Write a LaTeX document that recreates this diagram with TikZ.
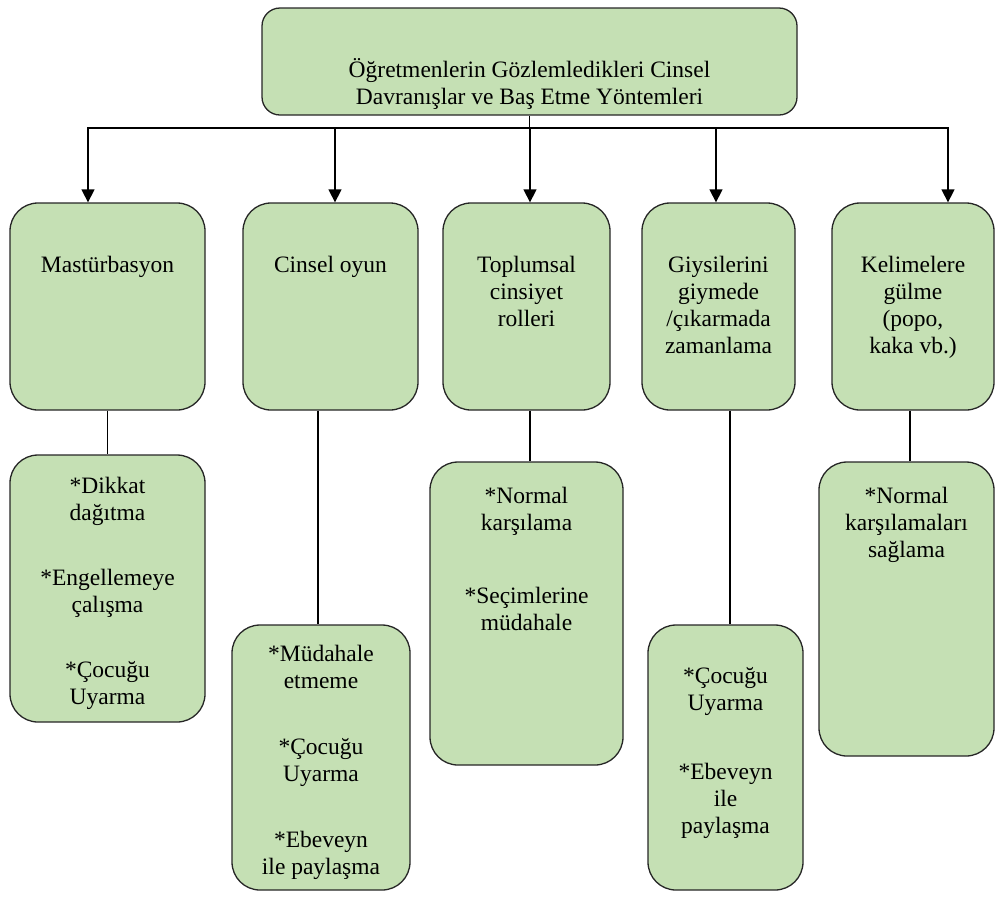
\documentclass[tikz,border=0pt]{standalone}
\usepackage{fontspec}
\setmainfont{Liberation Serif}
\newfontfamily\tnr{Liberation Serif}
\usetikzlibrary{arrows.meta,positioning,calc}
\definecolor{kutuyesil}{HTML}{C5E0B4}
\tikzset{
  kutu/.style 2 args={draw=black!85, fill=kutuyesil, line width=0.65pt, rounded corners=14pt,
    minimum width=#1*0.5pt, minimum height=#2*0.5pt, inner sep=0pt},
  yazi/.style={align=center, inner sep=0pt, anchor=north, font=\tnr\fontsize{11.75}{13.5}\selectfont},
}
\newcommand\ust{\rule{0pt}{10.5pt}}

\begin{document}
\begin{tikzpicture}[x=0.5pt,y=-0.5pt,>={Triangle[length=6.5pt,width=6.5pt]},line width=0.65pt,node distance=10pt]
\useasboundingbox (0,0) rectangle (996,896);

% ana kutu
\node[kutu={535}{107},rounded corners=9pt] (kok) at (529.5,61.5) {};
\node[yazi,below=24pt of kok.north] (kokt) {\ust Öğretmenlerin Gözlemledikleri Cinsel\\Davranışlar ve Baş Etme Yöntemleri};

% davranislar
\node[kutu={195}{207}] (d1) at (107.5,306.5) {};
\node[kutu={175}{207}] (d2) at (330.5,306.5) {};
\node[kutu={167}{207}] (d3) at (526.5,306.5) {};
\node[kutu={153}{207}] (d4) at (718.5,306.5) {};
\node[kutu={162}{207}] (d5) at (913,306.5) {};

\node[yazi,below=24pt of d1.north] (d1t) {\ust Mastürbasyon};
\node[yazi,below=24pt of d2.north] (d2t) {\ust Cinsel oyun};
\node[yazi,below=24pt of d3.north] (d3t) {\ust Toplumsal\\cinsiyet\\rolleri};
\node[yazi,below=24pt of d4.north] (d4t) {\ust Giysilerini\\giymede\\/çıkarmada\\zamanlama};
\node[yazi,below=24pt of d5.north] (d5t) {\ust Kelimelere\\gülme\\(popo,\\kaka vb.)};

% yontemler
\node[kutu={195}{267}] (y1) at (107.5,588.5) {};
\node[kutu={178}{265}] (y2) at (321,757.5) {};
\node[kutu={193}{303}] (y3) at (526.5,613.5) {};
\node[kutu={155}{265}] (y4) at (725.5,757.5) {};
\node[kutu={175}{294}] (y5) at (906.5,609) {};

\node[yazi,below=8.5pt of y1.north] (y1t) {\ust *Dikkat\\dağıtma\\[19pt]*Engellemeye\\çalışma\\[19pt]*Çocuğu\\Uyarma};
\node[yazi,below=7.5pt of y2.north] (y2t) {\ust *Müdahale\\etmeme\\[19.5pt]*Çocuğu\\Uyarma\\[19.5pt]*Ebeveyn\\ile paylaşma};
\node[yazi,below=10pt of y3.north] (y3t) {\ust *Normal\\karşılama\\[23pt]*Seçimlerine\\müdahale};
\node[yazi,below=18.5pt of y4.north] (y4t) {\ust *Çocuğu\\Uyarma\\[21pt]*Ebeveyn\\ile\\paylaşma};
\node[yazi,below=10pt of y5.north] (y5t) {\ust *Normal\\karşılamaları\\sağlama};

% baglantilar
\coordinate (bus) at (530,128);
\draw (kok.south) -- (kok.south |- bus);
\foreach \d/\dx in {d1/-19.5,d2/4.5,d3/3.5,d4/-2.5,d5/35}
  \draw[->] (kok.south |- bus) -| ($(\d.north)+(\dx,0)$);

\foreach \d/\y/\dx in {d1/y1/0,d2/y2/-12.5,d3/y3/3.5,d4/y4/11.5,d5/y5/-3}
  \draw ($(\d.south)+(\dx,0)$) coordinate (p) -- (p |- \y.north);
\end{tikzpicture}
\end{document}
